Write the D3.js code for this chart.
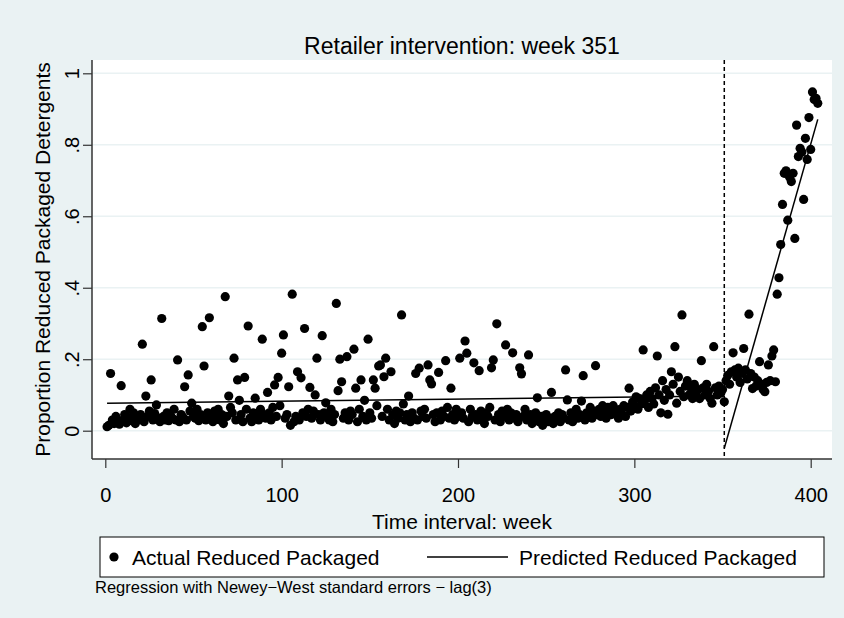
<!DOCTYPE html>
<html>
<head>
<meta charset="utf-8">
<script src="https://cdn.jsdelivr.net/npm/d3@7"></script>
<style>
  body { margin: 0; background: #EAF2F3; }
  text { font-family: "Liberation Sans", Arial, Helvetica, sans-serif; fill: #000; }
</style>
</head>
<body>
<div id="chart"></div>
<script>
// weekly share of reduced packaged detergents, weeks 1..404
const weeks = d3.range(1, 405)
const actual = [
  .011, .015, .16, .03, .02, .04, .025, .018, .126, .03,
  .045, .022, .035, .06, .028, .05, .02, .038, .03, .045,
  .242, .025, .097, .04, .055, .142, .03, .048, .072, .035,
  .025, .314, .04, .03, .05, .028, .042, .035, .06, .03,
  .198, .025, .045, .038, .123, .03, .156, .055, .077, .04,
  .035, .06, .028, .045, .291, .181, .03, .05, .316, .04,
  .025, .055, .035, .06, .03, .045, .02, .375, .04, .097,
  .065, .05, .203, .03, .142, .085, .045, .025, .149, .06,
  .293, .035, .025, .05, .091, .04, .03, .06, .256, .045,
  .035, .107, .05, .03, .065, .128, .04, .149, .07, .217,
  .268, .035, .045, .123, .015, .382, .025, .04, .165, .03,
  .148, .05, .286, .04, .06, .121, .035, .055, .1, .203,
  .045, .03, .266, .05, .078, .04, .03, .06, .025, .045,
  .356, .112, .2, .137, .035, .05, .207, .03, .055, .045,
  .228, .119, .025, .06, .142, .04, .085, .03, .256, .05,
  .035, .142, .119, .07, .181, .184, .04, .151, .203, .06,
  .03, .165, .045, .02, .055, .035, .05, .324, .075, .03,
  .045, .097, .025, .05, .035, .16, .03, .175, .055, .04,
  .06, .035, .184, .142, .131, .045, .025, .05, .163, .03,
  .055, .04, .196, .065, .035, .119, .045, .03, .06, .04,
  .203, .05, .035, .251, .217, .025, .06, .04, .19, .045,
  .03, .168, .055, .035, .02, .05, .04, .065, .176, .198,
  .03, .299, .045, .025, .055, .04, .24, .06, .03, .05,
  .218, .035, .045, .025, .176, .159, .04, .06, .03, .212,
  .045, .02, .035, .05, .092, .025, .04, .015, .03, .045,
  .025, .035, .107, .02, .04, .03, .05, .025, .045, .035,
  .17, .086, .03, .05, .025, .04, .06, .035, .045, .083,
  .154, .03, .05, .04, .065, .035, .055, .182, .045, .06,
  .04, .07, .05, .035, .065, .055, .045, .07, .06, .05,
  .035, .06, .045, .07, .04, .065, .119, .055, .08, .07,
  .095, .06, .09, .075, .226, .085, .1, .065, .11, .09,
  .075, .12, .209, .1, .05, .14, .085, .115, .046, .1,
  .165, .13, .235, .077, .15, .11, .324, .095, .125, .14,
  .1, .12, .09, .13, .105, .115, .09, .196, .12, .1,
  .13, .11, .09, .077, .235, .12, .1, .125, .105, .115,
  // after the intervention (week 351 on)
  .081, .14, .155, .13, .165, .218, .17, .15, .175, .135,
  .16, .23, .17, .145, .326, .16, .118, .15, .125, .14,
  .193, .13, .115, .109, .135, .184, .14, .209, .226, .137,
  .382, .428, .521, .633, .72, .727, .589, .71, .697, .72,
  .538, .855, .767, .79, .78, .647, .818, .759, .876, .787,
  .948, .927, .93, .916
]

// fitted segments (end points of each regression line)
const predPreWeeks = [1, 350]
const predPre = [0.0767, 0.097]
const predPostWeeks = [351, 404]
const predPost = [-0.049, 0.871]
const interventionWeek = 351

const xTicks = [0, 100, 200, 300, 400]
const yTicks = [0, 0.2, 0.4, 0.6, 0.8, 1]
const yTickLabels = ["0", ".2", ".4", ".6", ".8", "1"]

const width = 844
const height = 618
const plot = {left: 92, right: 832, top: 60, bottom: 459}
const bg = "#EAF2F3"

const svg = d3.select("#chart")
  .append("svg")
    .attr("width", width)
    .attr("height", height)

svg.append("rect")
  .attr("width", width)
  .attr("height", height)
  .attr("fill", bg)

svg.append("rect")
  .attr("x", plot.left)
  .attr("y", plot.top)
  .attr("width", plot.right - plot.left)
  .attr("height", plot.bottom - plot.top)
  .attr("fill", "#fff")

const x = d3.scaleLinear()
  .domain([0, 400])
  .range([105.3, 810.7])

const y = d3.scaleLinear()
  .domain([0, 1])
  .range([430.7, 73.3])

// grid lines
svg.append("g")
  .selectAll("line")
  .data(yTicks)
  .join("line")
    .attr("x1", plot.left)
    .attr("x2", plot.right)
    .attr("y1", d => y(d))
    .attr("y2", d => y(d))
    .attr("stroke", bg)
    .attr("stroke-width", 1.5)

// y axis
const yAxis = svg.append("g")
  .attr("transform", `translate(${plot.left},0)`)
  .call(d3.axisLeft(y).tickValues(yTicks).tickFormat((d, i) => yTickLabels[i]).tickSize(9).tickSizeOuter(0))
yAxis.select(".domain").remove()
yAxis.selectAll(".tick line").attr("stroke", "#333").attr("stroke-width", 1.2)
yAxis.selectAll(".tick text")
  .attr("x", null).attr("dy", null)
  .attr("transform", "translate(-13,0) rotate(-90)")
  .attr("text-anchor", "middle")
  .style("font-size", "20px")
  .style("font-family", "Liberation Sans, Arial, sans-serif")

// x axis
const xAxis = svg.append("g")
  .attr("transform", `translate(0,${plot.bottom})`)
  .call(d3.axisBottom(x).tickValues(xTicks).tickSize(9).tickSizeOuter(0))
xAxis.select(".domain").remove()
xAxis.selectAll(".tick line").attr("stroke", "#333").attr("stroke-width", 1.2)
xAxis.selectAll(".tick text")
  .attr("y", 29).attr("dy", "0.71em")
  .style("font-size", "20px")
  .style("font-family", "Liberation Sans, Arial, sans-serif")

// axis lines (left and bottom only)
svg.append("line")
  .attr("x1", plot.left).attr("x2", plot.left)
  .attr("y1", plot.top).attr("y2", plot.bottom)
  .attr("stroke", "#333").attr("stroke-width", 1.5)
svg.append("line")
  .attr("x1", plot.left).attr("x2", plot.right)
  .attr("y1", plot.bottom).attr("y2", plot.bottom)
  .attr("stroke", "#333").attr("stroke-width", 1.5)

// intervention marker
svg.append("line")
  .attr("x1", x(interventionWeek)).attr("x2", x(interventionWeek))
  .attr("y1", plot.top).attr("y2", plot.bottom)
  .attr("stroke", "#000")
  .attr("stroke-width", 1.5)
  .attr("stroke-dasharray", "4,3")

// scatter
svg.append("g")
  .selectAll("circle")
  .data(weeks)
  .join("circle")
    .attr("cx", d => x(d))
    .attr("cy", (d, i) => y(actual[i]))
    .attr("r", 4.6)
    .attr("fill", "#000")

// predicted lines
const line = d3.line().x(d => x(d[0])).y(d => y(d[1]))
svg.append("path")
  .attr("d", line(predPreWeeks.map((w, i) => [w, predPre[i]])))
  .attr("fill", "none").attr("stroke", "#000").attr("stroke-width", 1.5)
svg.append("path")
  .attr("d", line(predPostWeeks.map((w, i) => [w, predPost[i]])))
  .attr("fill", "none").attr("stroke", "#000").attr("stroke-width", 1.5)

// titles
svg.append("text")
  .attr("x", (plot.left + plot.right) / 2)
  .attr("y", 54)
  .attr("text-anchor", "middle")
  .style("font-size", "23px")
  .text("Retailer intervention: week 351")

svg.append("text")
  .attr("transform", `translate(50,${(plot.top + plot.bottom) / 2}) rotate(-90)`)
  .attr("text-anchor", "middle")
  .style("font-size", "21px")
  .text("Proportion Reduced Packaged Detergents")

svg.append("text")
  .attr("x", (plot.left + plot.right) / 2)
  .attr("y", 529)
  .attr("text-anchor", "middle")
  .style("font-size", "21px")
  .text("Time interval: week")

// legend
const legend = svg.append("g")
legend.append("rect")
  .attr("x", 100).attr("y", 537)
  .attr("width", 724).attr("height", 40)
  .attr("fill", "#fff")
  .attr("stroke", "#000")
  .attr("stroke-width", 1)
legend.append("circle")
  .attr("cx", 114).attr("cy", 557).attr("r", 4.6)
  .attr("fill", "#000")
legend.append("text")
  .attr("x", 132).attr("y", 564.5)
  .style("font-size", "21px")
  .text("Actual Reduced Packaged")
legend.append("line")
  .attr("x1", 427).attr("x2", 508)
  .attr("y1", 557).attr("y2", 557)
  .attr("stroke", "#000").attr("stroke-width", 1.5)
legend.append("text")
  .attr("x", 519).attr("y", 564.5)
  .style("font-size", "21px")
  .text("Predicted Reduced Packaged")

svg.append("text")
  .attr("x", 95).attr("y", 593)
  .style("font-size", "16.5px")
  .text("Regression with Newey\u2212West standard errors \u2212 lag(3)")
</script>
</body>
</html>
